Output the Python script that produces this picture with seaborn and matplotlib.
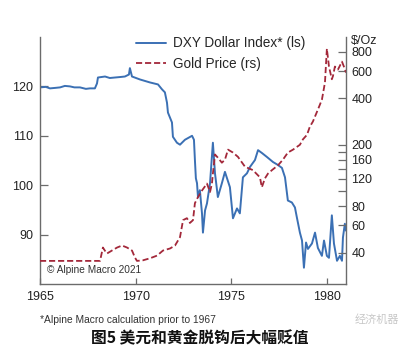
import numpy as np
import pandas as pd
import matplotlib
matplotlib.use("Agg")
import matplotlib.pyplot as plt
import seaborn as sns
from matplotlib.ticker import FixedLocator, NullFormatter, FixedFormatter

# ---- data ----
dxy_year = [1965.0, 1965.3, 1965.52, 1965.8, 1966.05, 1966.3, 1966.57, 1966.8, 1967.09, 1967.4,
            1967.61, 1967.87, 1967.98, 1968.03,
            1968.40, 1968.65, 1968.92, 1969.2, 1969.44, 1969.65, 1969.70, 1969.81, 1970.23, 1970.75, 1971.17,
            1971.38, 1971.53, 1971.64, 1971.69, 1971.90, 1971.95, 1972.16, 1972.32, 1972.58,
            1972.95, 1973.05, 1973.10, 1973.15, 1973.21, 1973.26, 1973.36, 1973.47, 1973.52,
            1973.63, 1973.73, 1973.89, 1974.04, 1974.15, 1974.30, 1974.51, 1974.67, 1974.93,
            1975.09, 1975.30, 1975.45, 1975.61, 1975.82, 1975.98, 1976.24, 1976.40, 1976.61,
            1976.87, 1977.18, 1977.44, 1977.65, 1977.81, 1977.96, 1978.17, 1978.33, 1978.43,
            1978.59, 1978.70, 1978.80, 1978.91, 1979.01, 1979.22, 1979.38, 1979.53, 1979.74,
            1979.85, 1980.00, 1980.11, 1980.26, 1980.37, 1980.53, 1980.68, 1980.79, 1980.84,
            1980.94, 1981.0]
dxy_value = [119.8, 119.9, 119.6, 119.7, 119.8, 120.1, 120.0, 119.8, 119.8, 119.5,
             119.6, 119.6, 120.6, 121.8,
             122.0, 121.7, 121.8, 121.9, 122.0, 122.4, 123.7, 122.0, 121.4, 120.8, 120.4,
             119.4, 118.8, 116.7, 114.7, 112.7, 109.8, 108.6, 108.2, 109.2,
             110.0, 109.2, 105.1, 101.4, 100.4, 97.6, 99.0, 94.3, 90.4,
             94.9, 96.3, 100.4, 108.6, 102.4, 97.6, 100.4, 102.7, 99.6,
             93.3, 95.3, 94.3, 101.6, 102.4, 103.7, 105.1, 107.1, 106.5,
             105.7, 104.7, 104.1, 103.5, 101.6, 96.9, 96.5, 95.5, 93.5,
             90.4, 88.8, 83.3, 88.4, 87.1, 88.2, 90.4, 87.3, 85.7,
             88.8, 85.7, 85.3, 93.9, 88.2, 84.7, 85.7, 84.7, 89.4,
             92.2, 90.8]

gold_year = [1965.0, 1968.14, 1968.29, 1968.40, 1968.50, 1968.76, 1969.03, 1969.29, 1969.55,
             1969.81, 1969.97, 1970.07, 1970.38, 1970.75, 1971.12, 1971.43, 1971.80, 1972.06,
             1972.32, 1972.48, 1972.68, 1972.84, 1973.00, 1973.10, 1973.26, 1973.47, 1973.73,
             1973.89, 1973.99, 1974.04, 1974.15, 1974.30, 1974.51, 1974.67, 1974.83, 1975.09,
             1975.35, 1975.72, 1976.13, 1976.50, 1976.60, 1976.76, 1976.92, 1977.13, 1977.44,
             1977.70, 1977.96, 1978.23, 1978.59, 1978.75, 1978.96, 1979.11, 1979.27, 1979.53,
             1979.74, 1979.90, 1980.00, 1980.11, 1980.26, 1980.32, 1980.42, 1980.58, 1980.79,
             1980.89, 1981.0]
gold_value = [35.3, 35.3, 43.1, 41.0, 39.4, 41.2, 43.1, 44.4, 43.1,
              41.2, 37.0, 35.3, 35.6, 36.7, 38.2, 41.2, 42.5, 44.4,
              50.3, 64.9, 66.8, 62.2, 64.9, 83.6, 91.5, 101.0, 112.0,
              98.8, 112.0, 130.0, 173.0, 165.0, 153.0, 160.0, 186.0, 178.0,
              167.0, 144.0, 137.0, 123.0, 106.0, 121.0, 130.0, 137.0, 147.0,
              160.0, 178.0, 186.0, 200.0, 217.0, 232.0, 262.0, 283.0, 338.0,
              392.0, 507.0, 838.0, 643.0, 532.0, 559.0, 643.0, 615.0, 692.0,
              643.0, 588.0]

x_ticks = [1965, 1970, 1975, 1980]
left_ticks = [90, 100, 110, 120]
right_major = [40, 60, 80, 120, 160, 200, 400, 600, 800]
right_minor = [100, 140, 180]

dxy = pd.DataFrame({"year": dxy_year, "value": dxy_value})
gold = pd.DataFrame({"year": gold_year, "value": gold_value})

sns.set_style("ticks")
plt.rcParams['font.family'] = ['Liberation Sans', 'Noto Sans CJK SC', 'DejaVu Sans']

BLUE = "#3b70b4"
RED = "#a3283a"
SPINE = "#6b6b6b"

fig = plt.figure(figsize=(4.09, 3.52), dpi=100)
ax = fig.add_axes([40/409, 1-284/352, 306/409, 247/352])
ax2 = ax.twinx()

sns.lineplot(data=dxy, x="year", y="value", ax=ax, color=BLUE, lw=1.4, label="DXY Dollar Index* (ls)", legend=False)
sns.lineplot(data=gold, x="year", y="value", ax=ax2, color=RED, lw=1.3, label="Gold Price (rs)", legend=False)
ax2.lines[0].set_dashes([3.4, 1.6])

ax.set_xlim(1965, 1981)
ax.set_ylim(80, 130)
ax2.set_yscale("log")
ax2.set_ylim(25, 1000)

for a in (ax, ax2):
    a.set_xlabel("")
    a.set_ylabel("")
    a.set_facecolor("none")
    a.spines["top"].set_visible(False)
ax.spines["right"].set_visible(False)
ax2.spines["left"].set_visible(False)
ax2.spines["bottom"].set_visible(False)
for s in ("left", "bottom"):
    ax.spines[s].set_color(SPINE)
    ax.spines[s].set_linewidth(1.0)
ax2.spines["right"].set_color(SPINE)
ax2.spines["right"].set_linewidth(1.0)

ax.set_xticks(x_ticks)
ax.set_xticklabels([str(t) for t in x_ticks])
ax.set_yticks(left_ticks)
ax.set_yticklabels([str(t) for t in left_ticks])
ax.tick_params(axis="x", direction="in", length=4, width=0.9, color=SPINE, labelsize=9, pad=5, labelcolor="#222222")
ax.tick_params(axis="y", direction="in", length=6, width=0.9, color=SPINE, labelsize=9, pad=5, labelcolor="#222222")

ax2.yaxis.set_major_locator(FixedLocator(right_major))
ax2.yaxis.set_major_formatter(FixedFormatter([str(t) for t in right_major]))
ax2.yaxis.set_minor_locator(FixedLocator(right_minor))
ax2.yaxis.set_minor_formatter(NullFormatter())
ax2.tick_params(axis="y", which="both", direction="in", length=6, width=0.9, color=SPINE, labelsize=9, pad=4, labelcolor="#222222")

# legend
h1 = ax.lines[0]
h2 = ax2.lines[0]
fig.legend([h1, h2], ["DXY Dollar Index* (ls)", "Gold Price (rs)"], loc="upper left",
           bbox_to_anchor=(131/409, 1-31/352), frameon=False, fontsize=9.8,
           handlelength=2.2, handletextpad=0.5, labelspacing=0.45, borderaxespad=0)

fig.text(351/409, 1-41/352, "$/Oz", fontsize=9, ha="left", va="center", color="#222222")
ax.text(0.022, 0.055, "© Alpine Macro 2021", transform=ax.transAxes, fontsize=7.3, color="#333333", ha="left", va="center")
fig.text(40/409, 1-320/352, "*Alpine Macro calculation prior to 1967", fontsize=7.4, color="#333333", ha="left", va="center")
fig.text(200/409, 1-338/352, "图5 美元和黄金脱钩后大幅贬值", fontsize=11.3, fontweight="bold", ha="center", va="center",
         family=['Noto Sans CJK SC', 'DejaVu Sans'], color="#111111")
fig.text(355/409, 1-320/352, "经济机器", fontsize=8, ha="left", va="center",
         family=['Noto Sans CJK SC', 'DejaVu Sans'], color="#c8c8c8")

fig.savefig("out.png", dpi=100)
